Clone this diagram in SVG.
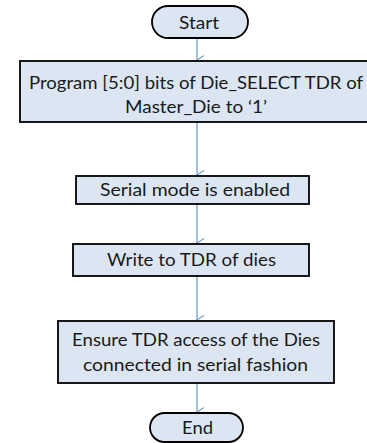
<svg xmlns="http://www.w3.org/2000/svg" width="367" height="443" viewBox="0 0 367 443">
<defs>
<style>
.box{fill:#dce6f2;stroke:#000;stroke-width:1.8}
.t{font-family:Lato,"Liberation Sans",Arial,sans-serif;font-size:17.5px;fill:#1a1a1a;text-anchor:middle}
.c{stroke:#4a7ebb;stroke-width:1;fill:none}
</style>
<marker id="ah" markerUnits="userSpaceOnUse" markerWidth="12" markerHeight="10" refX="5" refY="8" orient="auto-start-reverse" viewBox="0 0 12 10">
<path d="M0.5,1 L5,8 L9.5,1" fill="none" stroke="#4a7ebb" stroke-width="1"/>
</marker>
</defs>
<g id="connectors">
<line class="c" x1="197" y1="38" x2="197" y2="60" marker-end="url(#ah)"/>
<line class="c" x1="197" y1="122" x2="197" y2="175" marker-end="url(#ah)"/>
<line class="c" x1="197" y1="204" x2="197" y2="243" marker-end="url(#ah)"/>
<line class="c" x1="197" y1="276" x2="197" y2="320" marker-end="url(#ah)"/>
<line class="c" x1="197" y1="383" x2="197" y2="412" marker-end="url(#ah)"/>
</g>
<g id="start">
<rect class="box" x="152" y="6" width="96" height="32" rx="16"/>
<text class="t" x="199" y="28.5" textLength="40" lengthAdjust="spacingAndGlyphs">Start</text>
</g>
<g id="program">
<rect class="box" x="20" y="61" width="352" height="61"/>
<text class="t" x="196" y="89" textLength="334" lengthAdjust="spacingAndGlyphs">Program [5:0] bits of Die_SELECT TDR of</text>
<text class="t" x="196" y="113" textLength="142" lengthAdjust="spacingAndGlyphs">Master_Die to ‘1’</text>
</g>
<g id="serial">
<rect class="box" x="76" y="176" width="233" height="28"/>
<text class="t" x="195" y="196" textLength="190" lengthAdjust="spacingAndGlyphs">Serial mode is enabled</text>
</g>
<g id="write">
<rect class="box" x="73" y="244" width="236" height="32"/>
<text class="t" x="191.5" y="266" textLength="169" lengthAdjust="spacingAndGlyphs">Write to TDR of dies</text>
</g>
<g id="ensure">
<rect class="box" x="58" y="321" width="276" height="62"/>
<text class="t" x="196" y="346" textLength="248" lengthAdjust="spacingAndGlyphs">Ensure TDR access of the Dies</text>
<text class="t" x="195.5" y="371" textLength="225" lengthAdjust="spacingAndGlyphs">connected in serial fashion</text>
</g>
<g id="end">
<rect class="box" x="150" y="413" width="93" height="29" rx="14.5"/>
<text class="t" x="197.5" y="434" textLength="31" lengthAdjust="spacingAndGlyphs">End</text>
</g>
</svg>
